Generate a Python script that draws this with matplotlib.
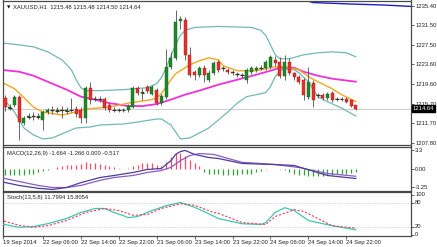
import matplotlib
matplotlib.use('Agg')
import matplotlib.pyplot as plt

# H1 candles, XAUUSD 19-25 Sep 2014
opens = [1216.9, 1214.8, 1215.4, 1217.1, 1211.8, 1213.0, 1213.2, 1213.0, 1212.4, 1214.0,
         1214.4, 1214.2, 1214.4, 1214.2, 1214.4, 1214.6, 1214.4, 1212.8, 1218.9, 1216.6,
         1216.7, 1216.6, 1215.4, 1214.4, 1214.5, 1214.4, 1214.4, 1215.0, 1218.9, 1217.9,
         1219.1, 1217.7, 1218.5, 1215.8, 1217.1, 1223.1, 1224.9, 1232.2, 1232.4, 1225.5,
         1222.1, 1221.5, 1222.9, 1220.5, 1221.9, 1224.1, 1222.9, 1222.5, 1222.1, 1221.7,
         1221.5, 1220.5, 1222.1, 1222.5, 1222.9, 1222.9, 1223.1, 1224.5, 1224.1, 1221.3,
         1224.1, 1221.9, 1221.1, 1220.5, 1217.1, 1219.9, 1217.5, 1217.5, 1216.9, 1217.9,
         1216.6, 1216.7, 1216.6, 1216.4, 1215.48]
closes = [1215.0, 1215.0, 1217.1, 1212.0, 1212.8, 1213.2, 1213.0, 1213.2, 1214.0, 1214.4,
          1214.2, 1214.4, 1214.2, 1214.4, 1214.5, 1213.6, 1212.8, 1218.9, 1216.5, 1216.7,
          1216.6, 1214.8, 1214.4, 1214.5, 1214.4, 1214.5, 1215.2, 1218.9, 1217.9, 1218.1,
          1218.3, 1219.1, 1215.8, 1217.3, 1223.1, 1224.9, 1232.0, 1232.6, 1225.5, 1221.5,
          1221.5, 1222.9, 1221.5, 1221.9, 1223.9, 1222.5, 1222.8, 1222.1, 1221.9, 1221.5,
          1221.4, 1222.5, 1222.9, 1222.9, 1222.8, 1224.1, 1225.1, 1223.9, 1221.3, 1224.1,
          1221.9, 1221.1, 1220.1, 1217.5, 1220.1, 1216.5, 1217.4, 1216.9, 1217.7, 1216.5,
          1216.7, 1216.6, 1216.0, 1215.2, 1214.64]
highs = [1217.5, 1215.6, 1217.5, 1217.5, 1213.2, 1213.8, 1214.0, 1213.8, 1214.4, 1214.8,
         1215.2, 1215.0, 1215.2, 1215.0, 1216.9, 1215.2, 1215.0, 1219.3, 1220.1, 1217.3,
         1217.3, 1217.1, 1215.8, 1215.0, 1214.8, 1214.8, 1215.6, 1219.3, 1219.3, 1218.9,
         1219.5, 1219.5, 1218.9, 1217.7, 1226.7, 1226.1, 1234.6, 1233.2, 1233.0, 1227.1,
         1222.5, 1223.3, 1223.5, 1222.5, 1224.3, 1224.5, 1223.3, 1222.9, 1222.5, 1222.1,
         1221.9, 1222.9, 1223.3, 1223.3, 1223.5, 1224.5, 1225.5, 1225.3, 1225.1, 1225.5,
         1224.9, 1222.1, 1221.5, 1220.9, 1223.1, 1220.5, 1217.9, 1217.9, 1218.1, 1218.3,
         1217.1, 1217.1, 1217.1, 1216.7, 1215.48]
lows = [1214.2, 1214.4, 1215.0, 1208.4, 1211.4, 1212.6, 1212.4, 1212.6, 1210.4, 1213.6,
        1213.6, 1213.8, 1212.8, 1213.6, 1214.0, 1213.0, 1211.8, 1211.8, 1215.6, 1216.2,
        1216.0, 1214.4, 1214.0, 1214.0, 1214.0, 1214.0, 1214.0, 1214.8, 1217.5, 1216.5,
        1217.9, 1217.5, 1215.4, 1215.4, 1216.7, 1222.7, 1224.5, 1230.6, 1224.5, 1221.1,
        1220.5, 1221.1, 1220.1, 1220.1, 1221.5, 1222.1, 1222.3, 1221.7, 1221.5, 1221.1,
        1220.9, 1219.9, 1221.7, 1222.1, 1222.5, 1222.5, 1222.7, 1223.3, 1220.9, 1220.5,
        1221.5, 1220.5, 1219.7, 1216.5, 1216.7, 1215.0, 1216.9, 1216.5, 1216.5, 1216.1,
        1216.2, 1216.2, 1215.8, 1215.0, 1214.50]

# Bollinger bands and moving averages (bar index, price)
bb_up_idx = [-1, 3, 6, 9, 12, 14, 15, 16, 17, 20, 25, 30, 32, 33, 34, 35, 36, 37, 38, 40,
             45, 52, 54, 55, 56, 57, 58, 60, 63, 66, 69, 72, 74]
bb_up = [1227.9, 1227.5, 1227.1, 1226.1, 1224.5, 1222.5, 1220.5, 1218.9, 1218.3, 1218.3,
         1218.5, 1218.9, 1219.7, 1220.9, 1222.9, 1225.3, 1227.5, 1229.4, 1230.4, 1231.0,
         1231.2, 1231.0, 1230.4, 1229.4, 1227.5, 1225.5, 1224.7, 1224.7, 1225.5, 1225.9,
         1226.1, 1225.9, 1225.1]
bb_lo_idx = [-1, 2, 4, 6, 8, 10, 13, 15, 18, 20, 25, 28, 32, 33, 35, 36, 37, 39, 41, 43,
             45, 47, 49, 51, 53, 55, 56, 57, 58, 59, 61, 62, 64, 66, 68, 71, 74]
bb_lo = [1217.5, 1214.0, 1210.8, 1209.4, 1208.6, 1208.8, 1210.0, 1210.8, 1211.0, 1211.4,
         1211.6, 1212.0, 1212.6, 1212.6, 1211.4, 1210.0, 1208.6, 1208.8, 1209.8, 1210.8,
         1212.4, 1214.0, 1215.8, 1217.1, 1217.5, 1217.9, 1219.1, 1221.1, 1222.3, 1222.7,
         1222.5, 1221.9, 1220.1, 1217.1, 1216.1, 1214.8, 1213.2]
ma_fast_idx = [-1, 2, 4, 6, 8, 12, 14, 17, 22, 26, 31, 32, 33, 35, 36, 38, 39, 41, 43, 45,
               46, 49, 53, 55, 57, 59, 62, 64, 66, 69, 71, 74]
ma_fast = [1220.1, 1218.7, 1216.9, 1215.0, 1214.0, 1213.4, 1213.8, 1214.6, 1215.0, 1215.8,
           1216.5, 1216.9, 1217.7, 1220.5, 1221.7, 1222.9, 1223.5, 1224.3, 1224.9, 1224.5,
           1223.3, 1222.3, 1222.3, 1222.7, 1223.1, 1223.1, 1222.5, 1221.1, 1220.1, 1218.7,
           1217.5, 1216.1]
ma_slow_idx = [-1, 3, 6, 10, 13, 16, 19, 22, 26, 29, 32, 35, 38, 41, 45, 49, 53, 56, 58,
               61, 63, 66, 69, 74]
ma_slow = [1222.5, 1222.1, 1221.3, 1219.7, 1218.5, 1217.1, 1216.5, 1215.8, 1215.2, 1215.2,
           1215.6, 1216.5, 1217.5, 1218.3, 1219.5, 1220.5, 1221.5, 1222.3, 1222.9, 1222.9,
           1222.1, 1221.3, 1220.7, 1220.1]
ma_long_idx = [62, 65, 73, 80, 86]
ma_long = [1236.8, 1236.0, 1235.7, 1235.5, 1235.2]

# MACD(12,26,9)
macd_hist = [-1.1, -1.1, -1.0, -1.0, -1.0, -0.9, -0.8, -0.6, -0.4, -0.2,
             0.1, 0.3, 0.5, 0.7, 0.8, 0.8, 0.9, 1.2, 1.1, 1.0,
             0.9, 0.7, 0.5, 0.3, 0.15, 0.1, 0.15, 0.6, 0.8, 1.0,
             1.0, 1.0, 0.8, 0.6, 1.2, 2.2, 2.9, 2.8, 2.3, 1.6,
             1.0, 0.5, -0.5, -0.8, -0.9, -0.9, -1.0, -1.0, -1.0, -1.0,
             -0.9, -0.9, -0.8, -0.6, -0.4, -0.1, 0.1, 0.1, -0.1, -0.2,
             -0.6, -0.8, -1.0, -1.1, -1.2, -1.2, -1.3, -1.2, -1.1, -1.0,
             -0.9, -0.9, -0.8, -0.7, -0.517]
macd_main_idx = [-1, 3, 7, 10, 13, 16, 20, 23, 27, 30, 33, 35, 36, 37, 38, 40, 43, 45,
                 50, 57, 61, 68, 74]
macd_main = [-2.2, -2.9, -3.4, -3.6, -3.26, -2.4, -1.5, -1.13, -0.6, -0.07, 0.11, 1.5,
             2.6, 3.1, 3.3, 2.6, 2.05, 1.88, 1.0, 0.8, 0.64, -1.13, -1.664]
macd_sig_idx = [-1, 3, 7, 10, 13, 16, 20, 23, 27, 30, 33, 35, 37, 39, 41, 44, 50, 57,
                62, 68, 74]
macd_sig = [-1.5, -2.2, -2.9, -3.26, -3.26, -2.9, -2.0, -1.49, -1.13, -0.6, -0.25, 0.3,
            1.5, 2.4, 2.75, 2.6, 1.2, 0.81, 0.28, -0.78, -1.266]

# Stochastic(13,5,8)
stoch_main_idx = [-1, 3, 6, 9, 13, 16, 19, 21, 23, 25, 26, 28, 31, 34, 37, 40, 43, 45,
                  50, 54, 55, 57, 59, 61, 64, 69, 74]
stoch_main = [27, 18, 20, 27, 40, 55, 65, 65, 55, 47, 42, 45, 60, 72, 80, 68, 52, 40,
              27, 25, 30, 55, 67, 60, 35, 22, 11.7994]
stoch_sig_idx = [-1, 3, 6, 9, 13, 17, 21, 24, 27, 30, 33, 37, 40, 44, 45, 50, 55, 57,
                 61, 63, 66, 69, 74]
stoch_sig = [36, 23, 18, 22, 35, 55, 65, 60, 48, 50, 65, 77, 73, 55, 53, 30, 25, 45,
             62, 58, 40, 22, 15.8054]

time_idx = [-0.4, 8, 16, 24, 32, 40, 48, 56, 64, 72]
time_labels = ['19 Sep 2014', '22 Sep 06:00', '22 Sep 14:00', '22 Sep 22:00', '23 Sep 06:00',
               '23 Sep 14:00', '23 Sep 22:00', '24 Sep 06:00', '24 Sep 14:00', '24 Sep 22:00']
price_ticks = [1235.40, 1231.50, 1227.50, 1223.60, 1219.60, 1215.70, 1211.70, 1207.80]
last_price = 1214.64

plt.rcParams['font.family'] = ['Liberation Sans', 'DejaVu Sans']
FS = 4.2
FRAME = '#4a4a4a'

W, H = 437, 247
fig = plt.figure(figsize=(W / 100, H / 100), dpi=100)


def panel(top, bottom):
    a = fig.add_axes([3 / W, 1 - bottom / H, 408 / W, (bottom - top) / H])
    a.set_xlim(-0.42, 85.65)
    a.yaxis.tick_right()
    a.tick_params(axis='y', labelsize=FS, length=2, width=0.5, pad=1, colors='#222222')
    a.tick_params(axis='x', bottom=False, labelbottom=False)
    for s in a.spines.values():
        s.set_color(FRAME)
        s.set_linewidth(0.9)
    return a


ax = panel(0.5, 145)
ax_m = panel(146.5, 190.5)
ax_s = panel(191.5, 235.5)

# ---- price panel
ax.set_ylim(1207.38, 1236.41)
ax.axhline(last_price, color='#c8c8c8', lw=0.6, zorder=1)
ax.plot(bb_up_idx, bb_up, color='#74b8b4', lw=0.9, zorder=2)
ax.plot(bb_lo_idx, bb_lo, color='#74b8b4', lw=0.9, zorder=2)
ax.plot(ma_slow_idx, ma_slow, color='#f030d8', lw=1.3, zorder=2)
ax.plot(ma_fast_idx, ma_fast, color='#f5a623', lw=1.0, zorder=2)
ax.plot(ma_long_idx, ma_long, color='#1c1cc8', lw=1.0, zorder=2)

x = list(range(len(opens)))
ax.vlines(x, lows, highs, color='#505050', lw=0.6, zorder=3)
body = [c - o for o, c in zip(opens, closes)]
cols = ['#1f8a2a' if b > 0 else '#e8302a' for b in body]
edges = ['#0d5a14' if b > 0 else '#a01818' for b in body]
ax.bar(x, body, bottom=opens, width=0.64, color=cols, edgecolor=edges, lw=0.3, zorder=4)
dojis = [i for i, b in enumerate(body) if abs(b) < 0.25]
ax.hlines([opens[i] for i in dojis], [i - 0.4 for i in dojis], [i + 0.4 for i in dojis],
          color='#303030', lw=0.8, zorder=5)

ax.set_yticks(price_ticks)
ax.set_yticklabels(['%.2f' % p for p in price_ticks])
ax.text(1.004, last_price, '%.2f' % last_price, transform=ax.get_yaxis_transform(),
        fontsize=FS, color='white', va='center', ha='left', clip_on=False, zorder=10,
        bbox=dict(boxstyle='square,pad=0.15', fc='black', ec='black'))
ax.text(0.01, 0.955, '\u25bc', transform=ax.transAxes, fontsize=3.2, va='center',
        family='DejaVu Sans')
ax.text(0.025, 0.955, 'XAUUSD,H1  1215.48 1215.48 1214.50 1214.64', transform=ax.transAxes,
        fontsize=FS, va='center', ha='left', color='#222222')

# ---- MACD panel
ax_m.set_ylim(-3.79, 4.0)
hcol = ['#ff4a6a' if v > 0.15 else ('#34a034' if v < -0.15 else '#b8b8b8') for v in macd_hist]
ax_m.vlines(x, 0, macd_hist, colors=hcol, lw=0.9, zorder=2)
ax_m.plot(macd_sig_idx, macd_sig, color='#8a5cc8', lw=0.9, zorder=3)
ax_m.plot(macd_main_idx, macd_main, color='#4c3c9c', lw=0.9, zorder=3)
ax_m.set_yticks([3.3, 0.0, -3.25])
ax_m.set_yticklabels(['3.3', '0.00', '-3.25'])
ax_m.text(0.01, 0.84, 'MACD(12,26,9) -1.664 -1.266 0.000 -0.517', transform=ax_m.transAxes,
          fontsize=FS, va='center', ha='left', color='#222222')

# ---- Stochastic panel
ax_s.set_ylim(-2.5, 107.5)
for lvl in (20, 80):
    ax_s.axhline(lvl, color='#b0b0b0', lw=0.5, ls=(0, (1, 1.5)), zorder=1)
ax_s.plot(stoch_main_idx, stoch_main, color='#3cc8b0', lw=0.9, zorder=3)
ax_s.plot(stoch_sig_idx, stoch_sig, color='#f03c5a', lw=0.8, ls=(0, (2, 1.5)), zorder=3)
ax_s.set_yticks([100, 80, 20, 0])
ax_s.set_yticklabels(['100', '80', '20', '0'])
ax_s.text(0.01, 0.875, 'Stoch(13,5,8) 11.7994 15.8054', transform=ax_s.transAxes,
          fontsize=FS, va='center', ha='left', color='#222222')

ax_s.tick_params(axis='x', bottom=True, labelbottom=True, labelsize=FS, length=2,
                 width=0.5, pad=1.5, colors='#222222')
ax_s.set_xticks(time_idx)
ax_s.set_xticklabels(time_labels, ha='left')

fig.savefig('out.png', dpi=100, facecolor='white')
